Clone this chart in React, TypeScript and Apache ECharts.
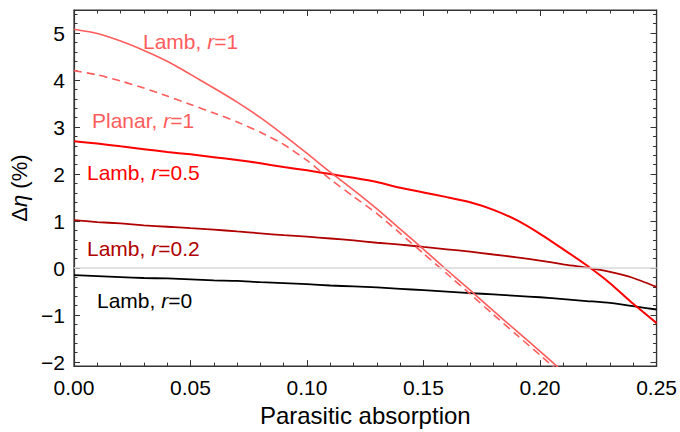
import React, { useEffect, useRef } from "react";
import * as echarts from "echarts";

const xValues = [0, 0.01, 0.02, 0.03, 0.04, 0.05, 0.06, 0.07, 0.08, 0.09, 0.1, 0.11, 0.12, 0.13, 0.14, 0.15, 0.16, 0.17, 0.18, 0.19, 0.2, 0.21, 0.22, 0.23, 0.24, 0.25];

const lambR1 = [5.08, 4.99, 4.83, 4.63, 4.40, 4.12, 3.83, 3.53, 3.20, 2.83, 2.44, 2.04, 1.66, 1.26, 0.83, 0.40, -0.04, -0.47, -0.91, -1.34, -1.77, -2.21];
const planarR1 = [4.20, 4.11, 3.98, 3.83, 3.66, 3.48, 3.30, 3.11, 2.89, 2.63, 2.29, 1.89, 1.52, 1.16, 0.74, 0.31, -0.12, -0.55, -0.99, -1.42, -1.85, -2.28];
const lambR05 = [2.70, 2.65, 2.59, 2.53, 2.47, 2.42, 2.36, 2.30, 2.23, 2.15, 2.08, 2.00, 1.92, 1.83, 1.71, 1.61, 1.51, 1.40, 1.24, 1.02, 0.73, 0.40, 0.06, -0.32, -0.76, -1.17];
const lambR02 = [1.02, 0.98, 0.95, 0.91, 0.88, 0.85, 0.82, 0.78, 0.74, 0.70, 0.67, 0.63, 0.59, 0.54, 0.50, 0.45, 0.40, 0.35, 0.29, 0.23, 0.16, 0.08, 0.01, -0.08, -0.21, -0.40];
const lambR0 = [-0.15, -0.17, -0.19, -0.21, -0.22, -0.24, -0.26, -0.27, -0.30, -0.32, -0.34, -0.37, -0.39, -0.41, -0.44, -0.47, -0.50, -0.53, -0.56, -0.59, -0.62, -0.66, -0.70, -0.74, -0.81, -0.88];

const yMajorTicks = [-2, -1, 0, 1, 2, 3, 4, 5];
const yMinorTicks = [-2, -1.8, -1.6, -1.4, -1.2, -1, -0.8, -0.6, -0.4, -0.2, 0, 0.2, 0.4, 0.6, 0.8, 1, 1.2, 1.4, 1.6, 1.8, 2, 2.2, 2.4, 2.6, 2.8, 3, 3.2, 3.4, 3.6, 3.8, 4, 4.2, 4.4, 4.6, 4.8, 5, 5.2, 5.4];

const Y_MIN = -2.084;
const Y_MAX = 5.49;

const FONT = "'Liberation Sans', Arial, Helvetica, sans-serif";
const AX = "#333";

const pairs = (ys: number[]) => ys.map((y, i) => [xValues[i], y]);

export default function App() {
  const ref = useRef<HTMLDivElement>(null);
  useEffect(() => {
    if (!ref.current) return;
    const chart = echarts.init(ref.current, undefined, { renderer: "svg" });
    const tickLine = { color: AX, width: 1 };
    const yBase = (pos: string, major: boolean, withLabels: boolean, name?: boolean) => ({
      type: "value",
      min: Y_MIN,
      max: Y_MAX,
      position: pos,
      axisLine: { show: major, onZero: false, lineStyle: { color: AX, width: 1.2 } },
      axisTick: {
        show: true,
        inside: true,
        length: major ? 6 : 3.5,
        customValues: major ? yMajorTicks : yMinorTicks,
        lineStyle: tickLine,
      },
      axisLabel: {
        show: withLabels,
        customValues: yMajorTicks,
        formatter: (v: number) => (v < 0 ? "\u2212" + Math.abs(v) : String(v)),
        fontSize: 21,
        color: "#000",
        fontFamily: FONT,
        margin: 9,
      },
      splitLine: { show: false },
      ...(name
        ? {
            name: "{a|\u0394}{b|\u03b7}{a| (%)}",
            nameLocation: "middle",
            nameRotate: 90,
            nameGap: 29,
            nameTextStyle: {
              rich: {
                a: { fontSize: 22, fontFamily: FONT, color: "#000" },
                b: { fontSize: 22, fontFamily: FONT, color: "#000", fontStyle: "italic" },
              },
            },
          }
        : {}),
    });
    const xBase = (pos: string, withLabels: boolean) => ({
      type: "value",
      min: 0,
      max: 0.25,
      interval: 0.05,
      position: pos,
      axisLine: { show: true, onZero: false, lineStyle: { color: AX, width: 1.2 } },
      axisTick: { show: true, inside: true, length: 6, lineStyle: tickLine },
      minorTick: { show: true, splitNumber: 5, length: 3.5, lineStyle: tickLine },
      axisLabel: {
        show: withLabels,
        formatter: (v: number) => v.toFixed(2),
        fontSize: 21,
        color: "#000",
        fontFamily: FONT,
        margin: 11,
      },
      splitLine: { show: false },
      ...(withLabels
        ? {
            name: "Parasitic absorption",
            nameLocation: "middle",
            nameGap: 30,
            nameTextStyle: { fontSize: 24, fontFamily: FONT, color: "#000" },
          }
        : {}),
    });
    const lineSeries = (data: number[], color: string, width: number, dashed = false, z = 3) => ({
      type: "line",
      data: pairs(data),
      xAxisIndex: 0,
      yAxisIndex: 0,
      showSymbol: false,
      symbol: "none",
      smooth: 0.2,
      clip: true,
      z,
      lineStyle: { color, width, type: dashed ? [8, 5] : "solid" },
    });
    const dummy = (xi: number, yi: number) => ({
      type: "line",
      data: [[0, 0]],
      xAxisIndex: xi,
      yAxisIndex: yi,
      showSymbol: false,
      symbol: "none",
      silent: true,
      lineStyle: { opacity: 0 },
    });
    const richLabel = (x: number, y: number, head: string, r: string, color: string) => ({
      type: "text",
      x,
      y,
      style: {
        text: "{n|" + head + " }{i|r}{n|=" + r + "}",
        fill: color,
        textVerticalAlign: "middle",
        rich: {
          n: { fontSize: 21, fontFamily: FONT, fill: color },
          i: { fontSize: 21, fontFamily: FONT, fill: color, fontStyle: "italic" },
        },
      },
    });
    chart.setOption({
      animation: false,
      backgroundColor: "#fff",
      grid: {
        left: 74,
        right: 23,
        top: 10,
        bottom: 62,
        containLabel: false,
        show: true,
        borderColor: AX,
        borderWidth: 1.2,
        backgroundColor: "transparent",
      },
      xAxis: [xBase("bottom", true), xBase("top", false)],
      yAxis: [
        yBase("left", true, true, true),
        yBase("left", false, false),
        yBase("right", true, false),
        yBase("right", false, false),
      ],
      series: [
        {
          type: "line",
          data: [],
          xAxisIndex: 0,
          yAxisIndex: 0,
          z: 1,
          markLine: {
            silent: true,
            symbol: "none",
            label: { show: false },
            lineStyle: { color: "#d9d9d9", width: 1.5, type: "solid" },
            data: [{ yAxis: 0 }],
          },
        },
        dummy(1, 1),
        dummy(1, 2),
        dummy(1, 3),
        lineSeries(lambR0, "#000000", 1.8),
        lineSeries(lambR02, "#b00000", 1.8),
        lineSeries(lambR05, "#ff0000", 2),
        lineSeries(planarR1, "#ff5c5c", 1.6, true),
        lineSeries(lambR1, "#ff5c5c", 1.6),
      ],
      graphic: [
        richLabel(143, 41, "Lamb,", "1", "#ff5c5c"),
        richLabel(92, 120, "Planar,", "1", "#ff5c5c"),
        richLabel(87, 172, "Lamb,", "0.5", "#ff0000"),
        richLabel(87, 248, "Lamb,", "0.2", "#b00000"),
        richLabel(97, 300, "Lamb,", "0", "#000000"),
      ],
    });
    return () => chart.dispose();
  }, []);
  return (
    <div
      ref={ref}
      style={{ position: "fixed", left: 0, top: 0, width: 680, height: 432, background: "#fff" }}
    />
  );
}
